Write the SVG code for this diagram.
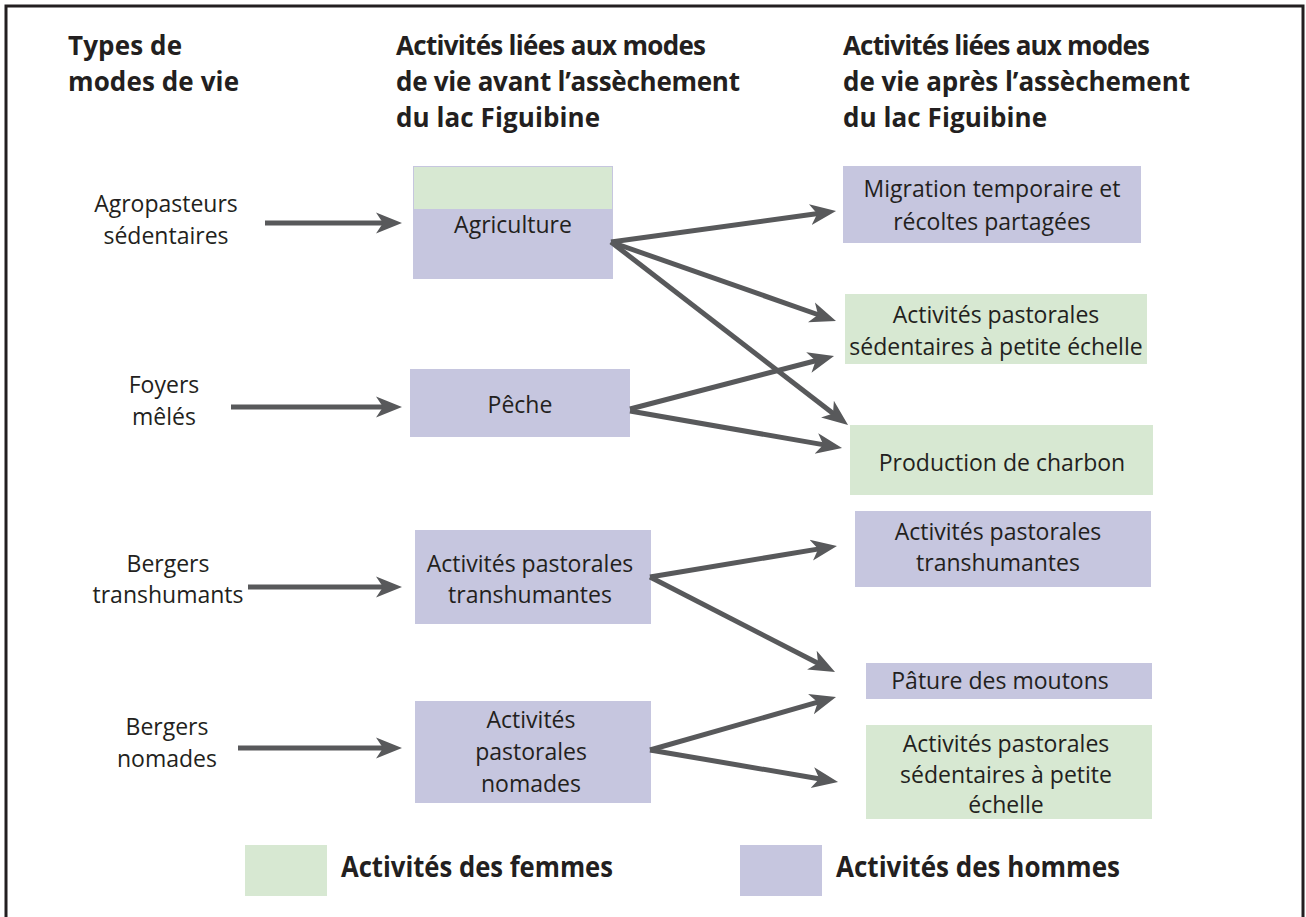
<svg xmlns="http://www.w3.org/2000/svg" width="1306" height="917" viewBox="0 0 1306 917">
<style>
  .hdr { font-family: "Open Sans", "Noto Sans", sans-serif; font-weight: 700; font-size: 26px; fill: #231f20; }
  .lbl { font-family: "Open Sans", "Noto Sans", sans-serif; font-size: 23px; fill: #231f20; text-anchor: middle; }
  .leg { font-family: "Open Sans", "Noto Sans", sans-serif; font-weight: 700; font-size: 28px; fill: #231f20; }
  .w { fill: #d7e8d2; }
  .m { fill: #c6c6df; }
  .conn line { stroke: #58595b; stroke-width: 5; marker-end: url(#ah); }
</style>
<defs>
  <marker id="ah" markerUnits="userSpaceOnUse" markerWidth="30" markerHeight="24" viewBox="0 -12 30 24" refX="8" refY="0" orient="auto">
    <path d="M26,0 L0,-10.5 L7,0 L0,10.5 Z" fill="#58595b"/>
  </marker>
</defs>
<rect width="1306" height="917" fill="#ffffff"/>
<rect x="6" y="6" width="1297" height="1000" fill="none" stroke="#231f20" stroke-width="3"/>

<g id="headers">
  <text class="hdr" x="68" y="55" textLength="114">Types de</text>
  <text class="hdr" x="68" y="91" textLength="171">modes de vie</text>
  <text class="hdr" x="396" y="55" textLength="310">Activités liées aux modes</text>
  <text class="hdr" x="396" y="91" textLength="344">de vie avant l’assèchement</text>
  <text class="hdr" x="396" y="127" textLength="204">du lac Figuibine</text>
  <text class="hdr" x="843" y="55" textLength="307">Activités liées aux modes</text>
  <text class="hdr" x="843" y="91" textLength="347">de vie après l’assèchement</text>
  <text class="hdr" x="843" y="127" textLength="204">du lac Figuibine</text>
</g>

<g id="type-agropasteurs">
  <text class="lbl" x="166" y="212">Agropasteurs</text>
  <text class="lbl" x="166" y="244">sédentaires</text>
</g>
<g id="type-foyers">
  <text class="lbl" x="164" y="393">Foyers</text>
  <text class="lbl" x="164" y="425">mêlés</text>
</g>
<g id="type-transhumants">
  <text class="lbl" x="168" y="572">Bergers</text>
  <text class="lbl" x="168" y="603">transhumants</text>
</g>
<g id="type-nomades">
  <text class="lbl" x="167" y="735">Bergers</text>
  <text class="lbl" x="167" y="767">nomades</text>
</g>

<g id="avant-agriculture">
  <rect class="m" x="413" y="166" width="200" height="113"/>
  <rect class="w" x="413" y="166" width="200" height="43"/>
  <rect x="413.5" y="166.5" width="199" height="112" fill="none" stroke="#c6c6df" stroke-width="1"/>
  <text class="lbl" x="513" y="233">Agriculture</text>
</g>
<g id="avant-peche">
  <rect class="m" x="410" y="369" width="220" height="68"/>
  <text class="lbl" x="520" y="413">Pêche</text>
</g>
<g id="avant-transhumantes">
  <rect class="m" x="415" y="530" width="236" height="94"/>
  <text class="lbl" x="530" y="572">Activités pastorales</text>
  <text class="lbl" x="530" y="603">transhumantes</text>
</g>
<g id="avant-nomades">
  <rect class="m" x="415" y="701" width="236" height="102"/>
  <text class="lbl" x="531" y="728">Activités</text>
  <text class="lbl" x="531" y="760">pastorales</text>
  <text class="lbl" x="531" y="792">nomades</text>
</g>

<g id="apres-migration">
  <rect class="m" x="843" y="166" width="298" height="77"/>
  <text class="lbl" x="992" y="197">Migration temporaire et</text>
  <text class="lbl" x="992" y="230">récoltes partagées</text>
</g>
<g id="apres-sedentaires-1">
  <rect class="w" x="845" y="294" width="302" height="70"/>
  <text class="lbl" x="996" y="323">Activités pastorales</text>
  <text class="lbl" x="996" y="355">sédentaires à petite échelle</text>
</g>
<g id="apres-charbon">
  <rect class="w" x="850" y="425" width="303" height="70"/>
  <text class="lbl" x="1002" y="471">Production de charbon</text>
</g>
<g id="apres-transhumantes">
  <rect class="m" x="855" y="511" width="296" height="76"/>
  <text class="lbl" x="998" y="540">Activités pastorales</text>
  <text class="lbl" x="998" y="571">transhumantes</text>
</g>
<g id="apres-pature">
  <rect class="m" x="866" y="663" width="286" height="36"/>
  <text class="lbl" x="1000" y="689">Pâture des moutons</text>
</g>
<g id="apres-sedentaires-2">
  <rect class="w" x="866" y="725" width="286" height="94"/>
  <text class="lbl" x="1006" y="752">Activités pastorales</text>
  <text class="lbl" x="1006" y="783">sédentaires à petite</text>
  <text class="lbl" x="1006" y="813">échelle</text>
</g>

<g id="connectors" class="conn">
  <line x1="265" y1="223" x2="384" y2="223"/>
  <line x1="231" y1="407" x2="384" y2="407"/>
  <line x1="248" y1="587" x2="384" y2="587"/>
  <line x1="238" y1="748" x2="384" y2="748"/>
  <line x1="611" y1="242" x2="818.2" y2="213.5"/>
  <line x1="611" y1="242" x2="819.0" y2="315.0"/>
  <line x1="611" y1="242" x2="833.8" y2="414.0"/>
  <line x1="630" y1="409" x2="816.6" y2="360.5"/>
  <line x1="630" y1="411" x2="824.3" y2="444.9"/>
  <line x1="650" y1="577" x2="819.2" y2="548.9"/>
  <line x1="650" y1="577" x2="819.0" y2="663.8"/>
  <line x1="650" y1="750" x2="818.7" y2="701.9"/>
  <line x1="650" y1="750" x2="820.3" y2="779.0"/>
</g>

<g id="legend-femmes">
  <rect class="w" x="245" y="845" width="82" height="51"/>
  <text class="leg" x="341" y="877" textLength="272" lengthAdjust="spacingAndGlyphs">Activités des femmes</text>
</g>
<g id="legend-hommes">
  <rect class="m" x="740" y="845" width="82" height="51"/>
  <text class="leg" x="836" y="877" textLength="284" lengthAdjust="spacingAndGlyphs">Activités des hommes</text>
</g>
</svg>
